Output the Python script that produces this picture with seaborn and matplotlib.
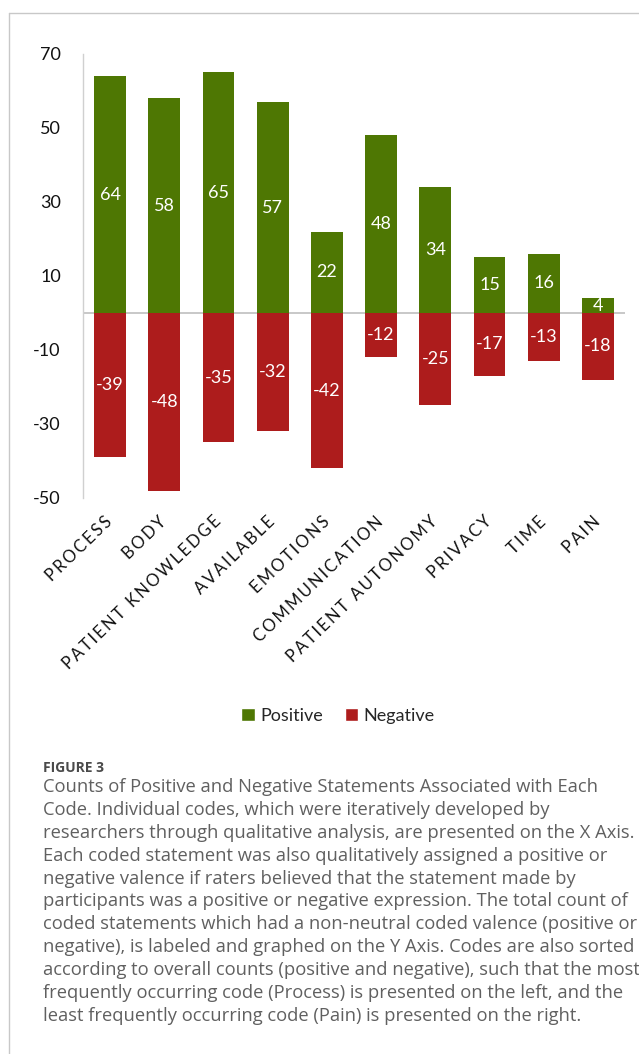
import matplotlib
matplotlib.use("Agg")
import matplotlib.pyplot as plt
from matplotlib.lines import Line2D
from matplotlib.patches import Patch
import seaborn as sns
import pandas as pd

codes = ["PROCESS", "BODY", "PATIENT KNOWLEDGE", "AVAILABLE", "EMOTIONS",
         "COMMUNICATION", "PATIENT AUTONOMY", "PRIVACY", "TIME", "PAIN"]
positive = [64, 58, 65, 57, 22, 48, 34, 15, 16, 4]
negative = [-39, -48, -35, -32, -42, -12, -25, -17, -13, -18]
yticks = [70, 50, 30, 10, -10, -30, -50]

caption_title = "FIGURE 3"
caption_lines = [
    "Counts of Positive and Negative Statements Associated with Each",
    "Code. Individual codes, which were iteratively developed by",
    "researchers through qualitative analysis, are presented on the X Axis.",
    "Each coded statement was also qualitatively assigned a positive or",
    "negative valence if raters believed that the statement made by",
    "participants was a positive or negative expression. The total count of",
    "coded statements which had a non-neutral coded valence (positive or",
    "negative), is labeled and graphed on the Y Axis. Codes are also sorted",
    "according to overall counts (positive and negative), such that the most",
    "frequently occurring code (Process) is presented on the left, and the",
    "least frequently occurring code (Pain) is presented on the right.",
]

GREEN = "#4E7703"
RED = "#AD1C1C"
FONT = ["Lato", "DejaVu Sans"]

sns.set_theme(style="white")
plt.rcParams["font.family"] = FONT

df = pd.DataFrame({
    "code": codes * 2,
    "value": positive + negative,
    "Valence": ["Positive"] * len(codes) + ["Negative"] * len(codes),
})

fig = plt.figure(figsize=(6.39, 10.54), dpi=100)
ax = fig.add_axes([83 / 639, 1 - 498 / 1054, (625 - 83) / 639, (498 - 54) / 1054])

sns.barplot(data=df, x="code", y="value", hue="Valence", order=codes,
            hue_order=["Positive", "Negative"], palette=[GREEN, RED],
            dodge=False, width=0.59, ax=ax, legend=False, saturation=1,
            edgecolor="none")

for cont in ax.containers:
    ax.bar_label(cont, label_type="center", color="white", fontsize=13,
                 family=FONT)

ax.set_ylim(-50, 70)
ax.set_yticks(yticks)
ax.set_yticklabels([str(t) for t in yticks], fontsize=13, color="#111111")
ax.tick_params(axis="y", length=0, pad=16)
ax.tick_params(axis="x", length=0, pad=4)
ax.set_xlim(-0.5, len(codes) - 0.5)
ax.axhline(0, color="#BFBFBF", lw=1.2, zorder=0.5)
ax.set_xlabel("")
ax.set_ylabel("")

spaced = ["\u2009".join(c) for c in codes]
ax.set_xticks(range(len(codes)))
ax.set_xticklabels(spaced, rotation=44, ha="right", va="center",
                   rotation_mode="anchor", fontsize=12, color="#111111")
for lbl in ax.get_xticklabels():
    lbl.set_y(-0.035)

for s in ["top", "right", "bottom"]:
    ax.spines[s].set_visible(False)
ax.spines["left"].set_color("#D0D0D0")
ax.spines["left"].set_linewidth(1.0)

handles = [Patch(facecolor=GREEN, label="Positive"),
           Patch(facecolor=RED, label="Negative")]
fig.legend(handles=handles, loc="center", bbox_to_anchor=(338 / 639, 1 - 716 / 1054),
           ncol=2, frameon=False, fontsize=13, handlelength=0.75,
           handleheight=0.75, handletextpad=0.3, columnspacing=1.2)

# figure frame lines
fig.add_artist(Line2D([9 / 639, 1], [1 - 13 / 1054, 1 - 13 / 1054],
                      transform=fig.transFigure, color="#C8C8C8", lw=1))
fig.add_artist(Line2D([9 / 639, 9 / 639], [0, 1 - 13 / 1054],
                      transform=fig.transFigure, color="#C8C8C8", lw=1))

fig.text(43 / 639, 1 - 768 / 1054, caption_title, fontsize=10, color="#4A4A4A",
         fontweight="bold", va="center", ha="left", family=["Open Sans", "DejaVu Sans"])
for i, line in enumerate(caption_lines):
    fig.text(43 / 639, 1 - (787 + i * 22.9) / 1054, line, fontsize=13.2,
             color="#606060", va="center", ha="left",
             family=["Open Sans", "DejaVu Sans"])

fig.savefig("out.png", dpi=100, facecolor="white")
